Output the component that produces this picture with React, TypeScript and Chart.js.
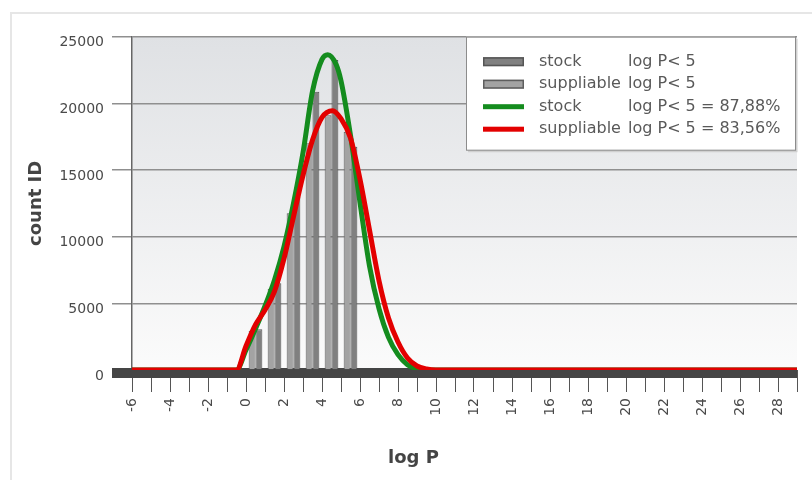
import React, { useEffect, useRef } from "react";
import { Chart, registerables } from "chart.js";

Chart.register(...registerables);

// ---- data ----
const binCenters = [0.5, 1.5, 2.5, 3.5, 4.5, 5.5];
const stockCounts = [3050, 6500, 13000, 20880, 23250, 16750];
const suppliableCounts = [2950, 6100, 11750, 17000, 19100, 17870];

const stockFitX = [-6, -0.5, 0, 0.5, 1, 1.5, 2, 2.5, 3, 3.5, 4, 4.3, 4.75, 5, 5.5, 6, 6.5, 7, 7.5, 8, 8.5, 9, 9.5, 29];
const stockFitY = [0, 0, 1500, 3100, 4800, 6750, 9250, 12500, 16300, 20900, 23300, 23650, 22900, 21700, 17600, 12550, 7800, 4600, 2450, 1150, 400, 80, 0, 0];

const suppliableFitX = [-6, -0.5, 0, 0.5, 1, 1.5, 2, 2.5, 3, 3.5, 4, 4.55, 5, 5.5, 6, 6.5, 7, 7.5, 8, 8.5, 9, 9.5, 10, 29];
const suppliableFitY = [0, 0, 1800, 3400, 4500, 5900, 8350, 11500, 14600, 17250, 18950, 19450, 18850, 17400, 14300, 10500, 6700, 3900, 2100, 900, 300, 80, 0, 0];

const seriesLabels = [
  "stock\tlog P< 5",
  "suppliable\tlog P< 5",
  "stock\tlog P< 5 = 87,88%",
  "suppliable\tlog P< 5 = 83,56%",
];

const xMin = -6;
const xMax = 29;
const yMax = 25000;
const yStep = 5000;
const xTitle = "log P";
const yTitle = "count ID";

const FONT = "DejaVu Sans";

export default function App() {
  const ref = useRef<HTMLCanvasElement>(null);

  useEffect(() => {
    const canvas = ref.current;
    if (!canvas) return;

    const bgPlugin = {
      id: "plotBg",
      beforeDraw(chart: any) {
        const { ctx, chartArea: a } = chart;
        const g = ctx.createLinearGradient(0, a.top, 0, a.bottom);
        g.addColorStop(0, "#dfe1e4");
        g.addColorStop(1, "#fbfbfb");
        ctx.save();
        ctx.fillStyle = g;
        ctx.fillRect(a.left, a.top, a.right - a.left, a.bottom - a.top);
        ctx.restore();
      },
    };

    const bandPlugin = {
      id: "zeroBand",
      beforeDatasetsDraw(chart: any) {
        const { ctx, chartArea: a } = chart;
        const y0 = chart.scales.y.getPixelForValue(0);
        ctx.save();
        ctx.fillStyle = "#454545";
        ctx.fillRect(a.left - 20, y0 - 2, a.right - a.left + 20, 10);
        ctx.restore();
      },
    };

    const legendPlugin = {
      id: "boxLegend",
      afterDraw(chart: any) {
        const { ctx, chartArea: a } = chart;
        const bw = 329;
        const bh = 113;
        const bx = a.right - 331;
        const by = a.top;
        ctx.save();
        ctx.fillStyle = "#ffffff";
        ctx.fillRect(bx, by, bw, bh);
        ctx.strokeStyle = "#d0d0d0";
        ctx.lineWidth = 2;
        ctx.beginPath();
        ctx.moveTo(bx + bw + 1.5, by + 2);
        ctx.lineTo(bx + bw + 1.5, by + bh + 1.5);
        ctx.lineTo(bx + 2, by + bh + 1.5);
        ctx.stroke();
        ctx.strokeStyle = "#8c8c8c";
        ctx.lineWidth = 1;
        ctx.strokeRect(bx + 0.5, by + 0.5, bw, bh);
        chart.data.datasets.forEach((ds: any, i: number) => {
          const cy = by + 25 + i * 22.5;
          const sx = bx + 17;
          if (ds.type === "bar") {
            ctx.fillStyle = ds.backgroundColor;
            ctx.fillRect(sx, cy - 4.5, 41, 9);
            ctx.strokeStyle = ds.borderColor;
            ctx.lineWidth = 1.5;
            ctx.strokeRect(sx + 0.75, cy - 3.75, 39.5, 7.5);
          } else {
            ctx.fillStyle = ds.borderColor;
            ctx.fillRect(sx, cy - 2.5, 41, 5);
          }
          const parts = String(ds.label).split("\t");
          ctx.fillStyle = "#595959";
          ctx.font = `16px "${FONT}"`;
          ctx.textBaseline = "middle";
          ctx.textAlign = "left";
          ctx.fillText(parts[0], bx + 73, cy);
          if (parts[1]) ctx.fillText(parts[1], bx + 162, cy);
        });
        ctx.restore();
      },
    };

    const chart = new Chart(canvas, {
      type: "bar",
      data: {
        datasets: [
          {
            type: "bar",
            label: seriesLabels[0],
            data: binCenters.map((x, i) => ({ x, y: stockCounts[i] })),
            backgroundColor: "#808080",
            borderColor: "#555555",
            borderWidth: 1,
            barPercentage: 1,
            categoryPercentage: 0.72,
            order: 3,
          },
          {
            type: "bar",
            label: seriesLabels[1],
            data: binCenters.map((x, i) => ({ x, y: suppliableCounts[i] })),
            backgroundColor: "#a3a3a3",
            borderColor: "#5e5e5e",
            borderWidth: 1,
            barPercentage: 1,
            categoryPercentage: 0.72,
            order: 2,
          },
          {
            type: "line",
            label: seriesLabels[2],
            data: stockFitX.map((x, i) => ({ x, y: stockFitY[i] })),
            borderColor: "#148c1e",
            backgroundColor: "#148c1e",
            borderWidth: 5,
            pointRadius: 0,
            cubicInterpolationMode: "monotone",
            fill: false,
            order: 1,
          },
          {
            type: "line",
            label: seriesLabels[3],
            data: suppliableFitX.map((x, i) => ({ x, y: suppliableFitY[i] })),
            borderColor: "#e30000",
            backgroundColor: "#e30000",
            borderWidth: 5,
            pointRadius: 0,
            cubicInterpolationMode: "monotone",
            fill: false,
            order: 0,
          },
        ] as any,
      },
      options: {
        responsive: false,
        animation: false,
        layout: { autoPadding: false, padding: { left: 30, right: 15, top: 36.7, bottom: 0 } },
        plugins: {
          legend: { display: false },
          tooltip: { enabled: false },
          title: {
            display: true,
            text: xTitle,
            position: "bottom",
            color: "#444444",
            font: { family: FONT, size: 18, weight: "bold" },
            padding: { top: 8, bottom: 10.4 },
          },
        },
        scales: {
          x: {
            type: "linear",
            min: xMin,
            max: xMax,
            offset: false,
            grid: {
              offset: false,
              drawOnChartArea: false,
              drawTicks: true,
              tickLength: 22,
              color: "#555555",
              lineWidth: 1,
            },
            border: { display: false },
            ticks: {
              stepSize: 1,
              autoSkip: false,
              maxRotation: 90,
              minRotation: 90,
              padding: 6,
              color: "#4a4a4a",
              font: { family: FONT, size: 14 },
              callback: (v: any) => (Number(v) % 2 === 0 ? String(v) : ""),
            },
            afterFit: (s: any) => {
              s.height = 70;
              s.paddingLeft = 0;
              s.paddingRight = 0;
            },
          },
          y: {
            min: 0,
            max: yMax,
            grid: {
              color: (c: any) => (c.tick && c.tick.value === 0 ? "rgba(0,0,0,0)" : "#8f8f8f"),
              lineWidth: 1.5,
              tickLength: 20,
            },
            border: { display: true, color: "#666666", width: 1.5 },
            ticks: {
              stepSize: yStep,
              padding: 8,
              labelOffset: 6,
              color: "#4a4a4a",
              font: { family: FONT, size: 14 },
              callback: (v: any) => String(v),
            },
            title: {
              display: true,
              text: yTitle,
              color: "#444444",
              font: { family: FONT, size: 18, weight: "bold" },
              padding: { top: -4, bottom: 0 },
            },
            afterFit: (s: any) => {
              s.width = 102;
              s.paddingTop = 0;
              s.paddingBottom = 0;
            },
          },
        },
      } as any,
      plugins: [bgPlugin, bandPlugin, legendPlugin],
    });

    return () => chart.destroy();
  }, []);

  return (
    <div style={{ position: "absolute", left: 0, top: 0, width: 812, height: 480, background: "#ffffff", overflow: "hidden" }}>
      <div
        style={{
          position: "absolute",
          left: 10,
          top: 12,
          right: 0,
          bottom: 0,
          borderLeft: "2px solid #e6e6e6",
          borderTop: "2px solid #e6e6e6",
        }}
      />
      <canvas ref={ref} width={812} height={480} style={{ position: "absolute", left: 0, top: 0, width: 812, height: 480 }} />
    </div>
  );
}
